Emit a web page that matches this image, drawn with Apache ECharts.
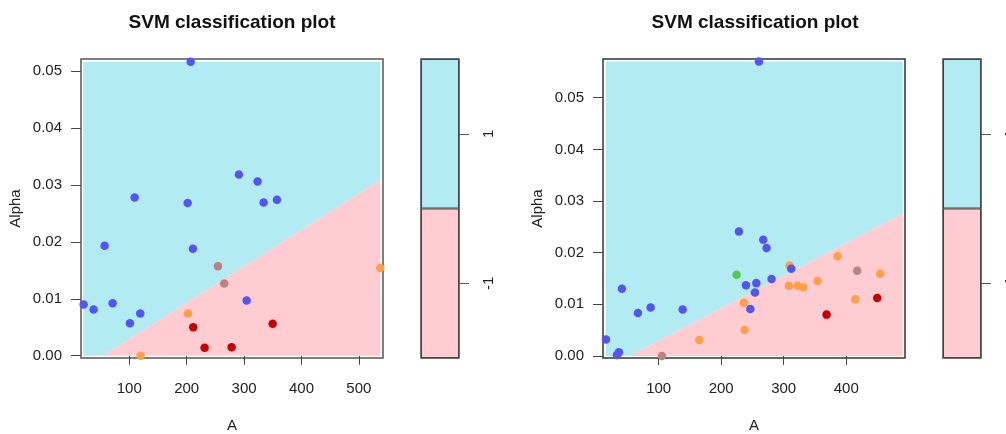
<!DOCTYPE html>
<html>
<head>
<meta charset="utf-8">
<script src="https://cdn.jsdelivr.net/npm/echarts@6/dist/echarts.min.js"></script>
<style>
  html, body { margin: 0; padding: 0; background: #fff; }
  #main { width: 1006px; height: 434px; }
</style>
</head>
<body>
<div id="main"></div>
<script>
// ---- data ----
var titleText = 'SVM classification plot';
var xName = 'A', yName = 'Alpha';
var classLabels = ['-1', '1'];
var classTickPos = [0.5, 1.5];
var yTicks = [0, 0.01, 0.02, 0.03, 0.04, 0.05];
var leftXTicks = [100, 200, 300, 400, 500];
var rightXTicks = [100, 200, 300, 400];

// left panel points [A, Alpha]
var leftBlue = [[207.0,0.0516],[291.1,0.0318],[323.6,0.0306],[334.1,0.0269],[357.3,0.0274],[109.4,0.0278],
  [201.7,0.0268],[57.1,0.0193],[211.0,0.0188],[20.6,0.0090],[38.0,0.0081],[71.1,0.0092],[101.2,0.0057],
  [119.2,0.0074],[304.5,0.0097]];
var leftRed = [[211.5,0.0050],[231.3,0.0014],[278.4,0.0015],[349.8,0.0056]];
var leftOrange = [[202.3,0.0074],[119.8,0.0000],[537.3,0.0154]];
var leftRose = [[254.5,0.0157],[265.5,0.0127]];

// right panel points [A, Alpha]
var rightBlue = [[260.4,0.0570],[228.4,0.0241],[267.3,0.0225],[272.6,0.0209],[312.1,0.0169],[280.6,0.0149],
  [256.2,0.0141],[239.6,0.0137],[254.0,0.0123],[246.6,0.0091],[41.3,0.0130],[66.9,0.0083],[87.2,0.0094],
  [138.4,0.0090],[15.8,0.0032],[36.5,0.0007],[33.3,0.0002]];
var rightGreen = [[224.7,0.0157]];
var rightOrange = [[309.4,0.0175],[308.3,0.0136],[322.2,0.0136],[331.3,0.0133],[354.2,0.0145],[386.1,0.0193],
  [454.4,0.0159],[414.4,0.0110],[236.4,0.0103],[237.5,0.0050],[165.0,0.0031]];
var rightRed = [[368.6,0.0080],[449.6,0.0112]];
var rightRose = [[417.6,0.0165],[105.3,0.0000]];

// decision regions (polygons in data units)
var leftCyanPoly = [[19.9,0],[54.7,0],[537.3,0.0309],[537.3,0.0516],[19.9,0.0516]];
var leftPinkPoly = [[54.7,0],[537.3,0],[537.3,0.0309]];
var rightCyanPoly = [[15.3,0],[53.6,0],[490.5,0.0276],[490.5,0.0570],[15.3,0.0570]];
var rightPinkPoly = [[53.6,0],[490.5,0],[490.5,0.0276]];

var CYAN = '#B2EBF1', PINK = '#FFCCD2';
var FONT = 'Liberation Sans';

var myChart = echarts.init(document.getElementById('main'));

function regionSeries(idx, cyanPoly, pinkPoly) {
  return {
    type: 'custom',
    xAxisIndex: idx, yAxisIndex: idx,
    silent: true,
    z: 1,
    data: [[cyanPoly[0][0], cyanPoly[0][1]]],
    renderItem: function (params, api) {
      return {
        type: 'group',
        children: [
          { type: 'polygon', shape: { points: cyanPoly.map(function (p) { return api.coord(p); }) }, style: { fill: CYAN } },
          { type: 'polygon', shape: { points: pinkPoly.map(function (p) { return api.coord(p); }) }, style: { fill: PINK } }
        ]
      };
    }
  };
}

function pts(idx, data, color) {
  return {
    type: 'scatter', xAxisIndex: idx, yAxisIndex: idx, z: 3,
    symbolSize: 8.5, data: data,
    itemStyle: { color: color, opacity: 1 }
  };
}

function xAx(idx, min, max, ticks) {
  return {
    gridIndex: idx, type: 'value', min: min, max: max,
    name: xName, nameLocation: 'middle', nameGap: 60,
    nameTextStyle: { color: '#222', fontSize: 15, fontFamily: FONT },
    axisLine: { show: false }, splitLine: { show: false },
    axisTick: { show: true, length: 9, customValues: ticks, lineStyle: { color: '#444' } },
    axisLabel: { customValues: ticks, margin: 23, color: '#222', fontSize: 15, fontFamily: FONT }
  };
}

function yAx(idx, min, max) {
  return {
    gridIndex: idx, type: 'value', min: min, max: max,
    name: yName, nameLocation: 'middle', nameGap: 58,
    nameTextStyle: { color: '#222', fontSize: 15, fontFamily: FONT },
    axisLine: { show: false }, splitLine: { show: false },
    axisTick: { show: true, length: 10, customValues: yTicks, lineStyle: { color: '#444' } },
    axisLabel: { customValues: yTicks, margin: 19, color: '#222', fontSize: 15, fontFamily: FONT,
      formatter: function (v) { return v.toFixed(2); } }
  };
}

function barX(idx) {
  return { gridIndex: idx, type: 'category', data: ['key'], show: false, boundaryGap: true };
}
function barY(idx) {
  return {
    gridIndex: idx, type: 'value', min: 0, max: 2, position: 'right',
    axisLine: { show: false }, splitLine: { show: false },
    axisTick: { show: true, length: 10, customValues: classTickPos, lineStyle: { color: '#555' } },
    axisLabel: { customValues: classTickPos, rotate: 90, margin: 22, color: '#222', fontSize: 15, fontFamily: FONT,
      formatter: function (v) { return classLabels[Math.floor(v)]; } }
  };
}
function barSeries(idx, value, color) {
  return {
    type: 'bar', xAxisIndex: idx, yAxisIndex: idx, stack: 'key' + idx, barWidth: '100%', silent: true,
    data: [value],
    itemStyle: { color: color, borderColor: '#444', borderWidth: 1 }
  };
}

var option = {
  backgroundColor: '#fff',
  animation: false,
  title: [
    { text: titleText, left: 227, top: 8, textAlign: 'center',
      textStyle: { fontSize: 19, fontWeight: 'bold', color: '#111', fontFamily: FONT } },
    { text: titleText, left: 750, top: 8, textAlign: 'center',
      textStyle: { fontSize: 19, fontWeight: 'bold', color: '#111', fontFamily: FONT } }
  ],
  grid: [
    { left: 81, top: 59, width: 302, height: 299, outerBoundsMode: 'none', show: true, borderColor: '#555', borderWidth: 1.5, backgroundColor: '#fff' },
    { left: 603, top: 59, width: 302, height: 299, outerBoundsMode: 'none', show: true, borderColor: '#333', borderWidth: 1.5, backgroundColor: '#fff' },
    { left: 421, top: 59, width: 38, height: 299, outerBoundsMode: 'none', show: true, borderColor: '#444', borderWidth: 1.5 },
    { left: 943, top: 59, width: 38, height: 299, outerBoundsMode: 'none', show: true, borderColor: '#444', borderWidth: 1.5 }
  ],
  xAxis: [
    xAx(0, 16, 542, leftXTicks),
    xAx(1, 11, 494, rightXTicks),
    barX(2), barX(3)
  ],
  yAxis: [
    yAx(0, -0.0004, 0.0521),
    yAx(1, -0.0004, 0.0575),
    barY(2), barY(3)
  ],
  series: [
    regionSeries(0, leftCyanPoly, leftPinkPoly),
    pts(0, leftOrange, '#FF9F4A'),
    pts(0, leftRed, '#C80000'),
    pts(0, leftRose, '#BC8282'),
    pts(0, leftBlue, '#5454F2'),
    regionSeries(1, rightCyanPoly, rightPinkPoly),
    pts(1, rightOrange, '#FF9F4A'),
    pts(1, rightRed, '#C80000'),
    pts(1, rightRose, '#BC8282'),
    pts(1, rightGreen, '#4FCB4F'),
    pts(1, rightBlue, '#5454F2'),
    barSeries(2, 1, PINK), barSeries(2, 1, CYAN),
    barSeries(3, 1, PINK), barSeries(3, 1, CYAN)
  ]
};

myChart.setOption(option);
</script>
</body>
</html>
